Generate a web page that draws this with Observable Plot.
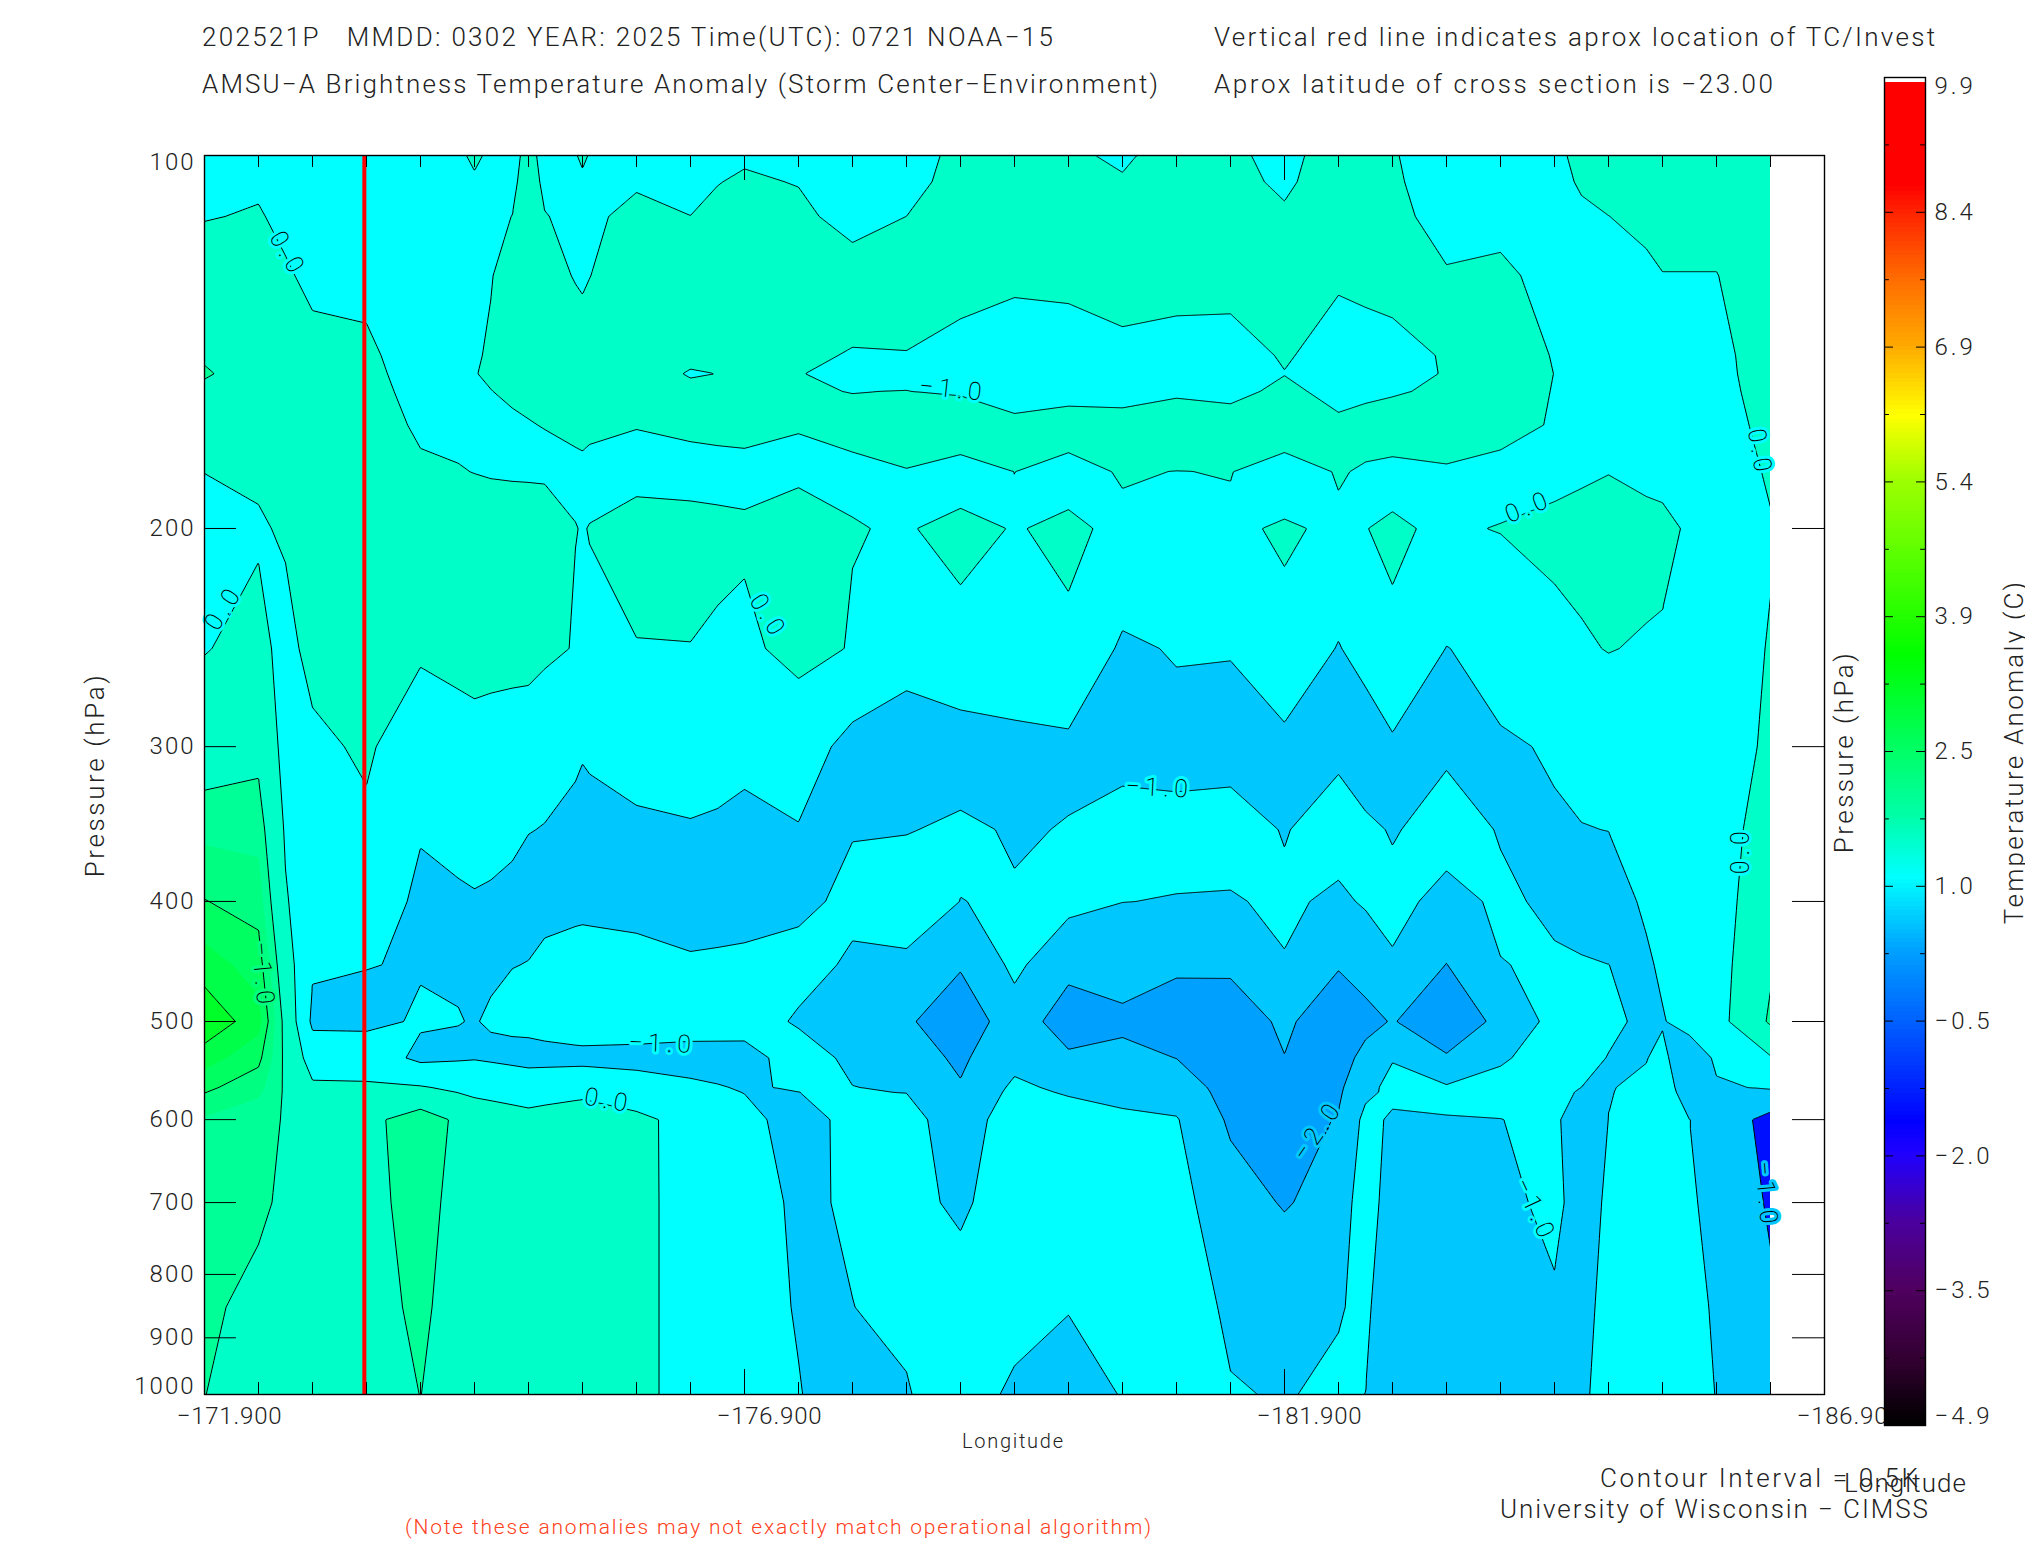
<!DOCTYPE html>
<html><head><meta charset="utf-8">
<script src="https://cdn.jsdelivr.net/npm/d3@7"></script>
<script src="https://cdn.jsdelivr.net/npm/@observablehq/plot@0.6"></script>
<style>
html,body{margin:0;padding:0;background:#fff}
#root{position:relative;width:2025px;height:1550px;overflow:hidden;background:#fff}
#root svg{position:absolute;left:0;top:0;background:transparent}
.t{position:absolute;white-space:pre;color:#222;font-family:Roboto,"Liberation Sans",sans-serif;font-weight:300;line-height:1}
.clab text{letter-spacing:5px}
.xax text{letter-spacing:.8px}
</style></head><body><div id="root"></div>
<script>
const levels=[100,125,150,165,180,200,250,300,400,500,535,600,700,850,1000];
const c00=[-.45,.37,1.06,.5,.02,-.65,-.045,.6,2.02,3.4,2.74,1.44,1.3,1.1,1.01];
const c01=[-.21,.31,.73,.5,.15,-.11,.28,.8,1.78,2.7,2.15,1.15,1.1,.85,.7];
const c02=[-.6,-.15,.27,.35,.35,.35,.3,-.2,-.6,-1.18,-.44,.78,.7,.6,.5];
const c03=[-.5,-.18,.19,.35,.45,.5,.6,.14,-.42,-1.2,-.46,.75,.75,.7,.6];
const c04=[-.6,-.45,-.3,-.11,.11,.37,.15,-.64,-1.19,-.91,-1.2,1.45,1.3,1.15,1.01];
const c05=[.1,-.1,-.01,-.12,-.01,.3,.4,-.38,-1.055,-1.02,-1.05,.58,.5,.45,.4];
const c06=[.1,.19,.15,-.02,-.18,.78,.5,-.83,-1.13,-.8,-1.25,.29,.3,.3,.3];
const c07=[.3,-.05,.21,.1,-.08,-.02,-.4,-.985,-1.12,-.5,-1.25,.6,.55,.5,.45];
const c08=[-.12,.27,.6,.05,-.47,.6,-.06,-.89,-1.18,-.5,-1.3,.2,.25,.25,.25];
const c09=[-.13,.13,-.1,.1,-.18,.17,-.01,-.74,-1.3,-.58,-1.35,-.29,-.35,-.35,-.35];
const c10=[-.05,.4,.7,.2,-.2,.1,-.14,-.92,-1.21,-.6,-1.35,-.75,-.6,-.5,-.5];
const c11=[-.1,.28,.01,.08,-.35,.9,.22,-.5,-1.2,-1.1,-.57,-1.35,-1.15,-1.08,-.95];
const c12=[-.5,.19,-.07,.11,-.08,.02,-.04,-1.32,-.8,-1.41,-1.2,-.75,-.9,-1.01,-1.6];
const c13=[-.4,.39,-.12,.25,-.02,-.04,-.45,-1.73,-.45,-1.85,-1.6,-.55,-.75,-.8,-1.07];
const c14=[.24,.3,-.38,.5,-.29,.16,-.18,-1.49,-1.01,-2.7,-2.15,-1.7,-1.15,-.6,-.4];
const c15=[.5,.15,-.52,.15,.003,-.03,-.3,-1.26,-.93,-1.4,-1.3,-.3,-.5,-.55,-1.22];
const c16=[.1,.2,-.5,.29,-.2,.1,-.09,-1.2,-.75,-2.55,-1.83,-.5,-.6,-.95,-1.5];
const c17=[-.1,.61,-.56,.28,.05,-.12,-1.155,-1.3,-.99,-2.18,-1.77,-.83,-.6,-.6,-.95];
const c18=[.28,.3,-.43,.47,-.01,-.3,-.93,-1.3,-1.03,-2.55,-2.01,-.94,-.7,-.65,-.6];
const c19=[.19,.3,-.47,.33,.02,-.1,-.95,-1.35,-1.07,-2.52,-2.6,-2.15,-1.55,-1.11,-.96];
const c20=[-.3,.49,-.02,.5,-.35,.07,-.15,-1.28,-.85,-1.83,-2.02,-2.5,-2.08,-1.2,-1.04];
const c21=[.5,.1,-.4,.13,.05,-.1,-1.06,-1.2,-1.17,-2.61,-2.4,-1.93,-1.6,-1.05,-.88];
const c22=[.07,.25,-.33,.4,-.19,.08,-.09,-1.155,-.75,-1.94,-1.05,-1.12,-1.6,-1.57,-1.13];
const c23=[-.5,.05,.06,.3,-.06,-.1,-1.02,-1.14,-1.26,-2.7,-1.9,-1.05,-1.5,-1.5,-1.5];
const c24=[-.5,.12,.5,.4,-.35,.035,-.75,-1.07,-.87,-1.75,-1.08,-1.01,-1.3,-1.5,-1.5];
const c25=[-.15,-.2,-.01,-.1,-.2,.18,-.21,-.95,-1.14,-.71,-.7,-.85,-.72,-1.15,-1.3];
const c26=[.5,-.5,-.5,-.4,-.02,.35,.03,-.6,-1.33,-.7,-1.05,-.995,-.83,-.95,-.84];
const c27=[.6,-.02,-.5,-.5,-.3,.25,-.12,-.5,-.7,-1.05,-.85,-.7,-.7,-.7,-.7];
const c28=[.6,-.02,-.4,-.5,-.5,-.5,-.4,-.4,-.4,-.34,-.88,-1.29,-1.16,-1.05,-1.01];
const c29=[.5,.48,.63,.33,.1,-.06,.045,.13,.65,1.12,-.07,-1.9,-1.9,-1.7,-1.5];
const columns=[c00,c01,c02,c03,c04,c05,c06,c07,c08,c09,c10,c11,c12,c13,c14,c15,c16,c17,c18,c19,c20,c21,c22,c23,c24,c25,c26,c27,c28,c29];
// additional readings between the regular grid positions: [column, hPa, value]
const extra=[[1.5,250,-.3],[1.5,300,-.3],[1.5,400,.08],[3,450,-.98],[4,450,-1.05],[5,112,-.3],[6,450,-.99],[5.3,450,-1.06],[5.7,450,-1.01],
[4.7,100,-.1],[5.3,100,-.1],[5.7,100,-.1],[6.3,100,-.1],[6.87,100,-.1],[7.13,100,-.1],[7,105,-.3],
[6.87,200,.012],[7.13,200,.013],[6.87,250,-.06],[7.13,250,-.087],
[9,145,.3],[9,155,.3],[9.5,150,.01],[11,350,-1.05],[11,450,-.7],[14,350,-.85],[15,450,-.8],[17,350,-.67],[18,350,-.75],[19,350,-.63],
[20,450,-1.05],[21,350,-.6],[22,350,-1.07],[22,450,-1.1],[22,565,-.75],[23,350,-.65],[23,570,-.75],[24,350,-1.05],[24,450,-1.02],[24,570,-.75],
[25.5,535,-.55],[25.5,600,-1.5],[25.5,700,-1.5],[26.7,500,-1.3],[26.7,535,-1.02],[27.5,535,-1.5],[27.5,600,-1],
[21.5,300,-1.66],[21.5,350,-.81],[21.5,400,-.9],[21.5,600,-.75],[21.5,700,-.4],[21.5,850,-.85]];
// deep-blue pocket at the right edge (own field): value >= 1 is inside
const deep28=[0,0,0,0,0,0,0,0,0,0,0,.72,.3,0,0];
const deep29=[0,0,0,0,0,0,0,0,0,0,0,1.14,1.105,.86,.6];

const lon0=-171.9, lonStep=.5, lonEnd=-186.9, lonData=-186.4, tcLon=-173.38;
const lonMajor=[-171.9,-176.9,-181.9,-186.9];
const pTicks=[100,200,300,400,500,600,700,800,900,1000];
const pLabelAt=[101.2,200,300,400,500,600,700,800,900,985.6];
const bandLevels=[-2,-1,0,1,1.5,2,2.5,3];
const bandLines=[true,true,true,true,false,true,false,true];
const bandBase="#00a0ff";
const bandColors=["#00c8ff","#00ffff","#00ffc8","#00ff96","#00ff80","#00ff60","#00ff48","#00ff28"];
const labelText=["0.0","0.0","−1.0","0.0","0.0","0.0","0.0","−1.0","−1.0","−1.0","0.0","−2.0","−1.0","−1.0"];
const labelLon=[-172.67,-172.08,-178.83,-177.12,-184.16,-186.3,-186.13,-180.74,-172.44,-176.14,-175.64,-182.21,-184.22,-186.36];
const labelP=[120.1,231.7,154.5,235.6,192.1,173.7,363.7,324,459,521,579,612,710,690];
const labelRot=[60,-57,6,58,-22,80,-90,3,85,2,10,-55,65,85];
const labelBg=["#00ffff","#00ffff","#00ffff","#00ffff","#00ffff","#00ffff","#00ffff","#00ffff","#00ff80","#00ffff","#00ffff","#00c8ff","#00ffff","#00c8ff"];

const cbLabels=["9.9","8.4","6.9","5.4","3.9","2.5","1.0","−0.5","−2.0","−3.5","−4.9"];
const cbTicks=[9.9,8.42,6.94,5.46,3.98,2.5,1.02,-.46,-1.94,-3.42,-4.9];
const cbLabelY=[9.8,8.42,6.94,5.46,3.98,2.5,1.02,-.46,-1.94,-3.42,-4.8];
const cbMinor=[9.16,7.68,6.2,4.72,3.24,1.76,.28,-1.2,-2.68,-4.16];
const cbStops=[-4.9,-4.24,-3.42,-2.67,-1.94,-1.6,-.5,.28,1.09,1.76,2.2,3.53,5.47,6.16,6.94,7.68,8.42,8.69,9.85];
const cbColors=["#000000","#30002f","#500060","#4a00a0","#2000ff","#0000ff","#0060ff","#00a0ff","#00ffff","#00ffa8","#00ff80","#00ff00","#a0ff00","#ffff00","#ffa800","#ff6a00","#ff2000","#ff0000","#ff0000"];

// Arrange the table on one rectangular lattice (column positions x pressure positions).
function lattice(cols,extras){
  const logL=levels.map(Math.log10), store=[];
  cols.forEach((col,i)=>{
    const ex=extras.filter(e=>e[0]===i);
    const k=col.map((v,j)=>[logL[j],v]).concat(ex.map(e=>[Math.log10(e[1]),e[2]])).sort((a,b)=>a[0]-b[0]);
    store.push({c:i,t:k.map(d=>d[0]),v:k.map(d=>d[1])});
  });
  [...new Set(extras.map(e=>e[0]).filter(c=>c%1!==0))].forEach(c=>{
    const a=cols[Math.floor(c)], b=cols[Math.ceil(c)], f=c-Math.floor(c);
    const own=extras.filter(e=>e[0]===c);
    const k=levels.map((p,j)=>{
      const e=own.find(e=>e[1]===p);
      return [logL[j],e?e[2]:a[j]+(b[j]-a[j])*f];
    }).concat(own.filter(e=>!levels.includes(e[1])).map(e=>[Math.log10(e[1]),e[2]])).sort((x,y)=>x[0]-y[0]);
    store.push({c,t:k.map(d=>d[0]),v:k.map(d=>d[1])});
  });
  store.sort((a,b)=>a.c-b.c);
  const T=[...new Set(logL.concat(extras.map(e=>Math.log10(e[1]))))].sort((a,b)=>a-b);
  const at=(s,t)=>{
    let j=1;const m=s.t.length-1;
    while(j<m&&s.t[j]<t)j++;
    const f=Math.max(0,Math.min(1,(t-s.t[j-1])/(s.t[j]-s.t[j-1])));
    return s.v[j-1]+(s.v[j]-s.v[j-1])*f;
  };
  return {C:store.map(s=>s.c),T,V:store.map(s=>Float64Array.from(T,t=>at(s,t)))};
}
// Signed distance (in screen-like units) to the straight-segment contour of threshold th,
// cell by cell, so that Plot.contour traces straight lines between cell-edge crossings.
function contourField({C,T,V},th){
  const XS=C.map(c=>c*54), YS=T.map(t=>t*1239.7);
  const nx=XS.length-1, ny=YS.length-1;
  const find=(A,n,x)=>{let lo=0,hi=n-1;while(lo<hi){const m=(lo+hi+1)>>1;if(A[m]<=x)lo=m;else hi=m-1;}return lo;};
  return (lon,p)=>{
    const X=(lon0-lon)/lonStep*54, Y=Math.log10(p)*1239.7;
    const i=find(XS,nx,X), j=find(YS,ny,Y);
    const x0=XS[i],x1=XS[i+1],y0=YS[j],y1=YS[j+1];
    const a=V[i][j]-th+1e-7,b=V[i+1][j]-th+1e-7,c=V[i+1][j+1]-th+1e-7,d=V[i][j+1]-th+1e-7;
    const pa=a>0,pb=b>0,pc=c>0,pd=d>0;
    const n=pa+pb+pc+pd;
    if(n===0)return -40; if(n===4)return 40;
    const top=()=>[x0+(x1-x0)*a/(a-b),y0], right=()=>[x1,y0+(y1-y0)*b/(b-c)],
          bottom=()=>[x0+(x1-x0)*d/(d-c),y1], left=()=>[x0,y0+(y1-y0)*a/(a-d)];
    const side=(P,Q,Rx,Ry)=>{
      const ux=Q[0]-P[0],uy=Q[1]-P[1],L=Math.hypot(ux,uy)||1e-9;
      const s=ux*(Y-P[1])-uy*(X-P[0]), r=ux*(Ry-P[1])-uy*(Rx-P[0]);
      return (r>=0?s:-s)/L;
    };
    if(pa===pc&&pb===pd&&pa!==pb){ // saddle
      const m=(a+b+c+d)/4;
      if(pa){
        if(m>0) return Math.min(side(top(),right(),x0,y0),side(bottom(),left(),x1,y1));
        return Math.max(side(top(),left(),x0,y0),side(bottom(),right(),x1,y1));
      }
      if(m>0) return Math.min(side(top(),left(),x1,y0),side(bottom(),right(),x0,y1));
      return Math.max(side(top(),right(),x1,y0),side(bottom(),left(),x0,y1));
    }
    const pts=[];
    if(pa!==pb)pts.push(top()); if(pb!==pc)pts.push(right()); if(pd!==pc)pts.push(bottom()); if(pa!==pd)pts.push(left());
    let Rx,Ry;
    if(n===1){Rx=pa||pd?x0:x1;Ry=pa||pb?y0:y1;}
    else if(n===3){Rx=!pa||!pd?x1:x0;Ry=!pa||!pb?y1:y0;}
    else if(pa&&pb){Rx=x0;Ry=y0;} else if(pc&&pd){Rx=x0;Ry=y1;} else if(pa&&pd){Rx=x0;Ry=y0;} else {Rx=x1;Ry=y0;}
    return Math.max(-40,Math.min(40,side(pts[0],pts[1],Rx,Ry)));
  };
}
const latV=lattice(columns,extra);
const latD=lattice(columns.map((_,i)=>i===28?deep28:i===29?deep29:levels.map(()=>0)),[]);

const lonMinor=d3.range(0,30).map(i=>lon0-lonStep*i).filter(x=>!lonMajor.some(m=>Math.abs(m-x)<1e-6));
const box={x1:lon0,x2:-186.45,y1:100,y2:1000,pixelSize:1,thresholds:[0],strokeWidth:1};
const FONT='Roboto,"Liberation Sans",sans-serif';

const main=Plot.plot({
  width:2025,height:1550,marginLeft:204,marginRight:201,marginTop:155,marginBottom:156,
  style:{fontFamily:FONT,fontWeight:300,fontSize:"24px",letterSpacing:"2px",color:"#222",background:"transparent"},
  x:{domain:[lon0,lonEnd]},
  y:{type:"log",domain:[100,1000],reverse:true,axis:null},
  marks:[
    Plot.rect([0],{x1:lon0,x2:lonData,y1:100,y2:1000,fill:bandBase}),
    ...bandLevels.map((th,i)=>Plot.contour({value:contourField(latV,th),fill:bandColors[i],stroke:bandLines[i]?"#000":"none",...box})),
    Plot.contour({value:contourField(latD,1),fill:"#0010ff",stroke:"#000",...box}),
    Plot.rect([0],{x1:lonData,x2:lonEnd,y1:100,y2:1000,fill:"#fff"}),
    Plot.text(d3.range(labelText.length),{x:i=>labelLon[i],y:i=>labelP[i],text:i=>labelText[i],rotate:i=>labelRot[i],
      stroke:i=>labelBg[i],strokeWidth:6,fill:"#000",fontSize:25,fontWeight:200,className:"clab",paintOrder:"stroke"}),
    Plot.ruleX([tcLon],{stroke:"#ff0000",strokeWidth:4}),
    Plot.ruleX(lonMinor,{y1:1000,y2:978,stroke:"#000"}),
    Plot.ruleX(lonMinor,{y1:100,y2:102.25,stroke:"#000"}),
    Plot.ruleX(lonMajor,{y1:1000,y2:954.7,stroke:"#000"}),
    Plot.ruleX(lonMajor,{y1:100,y2:104.75,stroke:"#000"}),
    Plot.ruleY(pTicks,{x1:lon0,x2:-172.196,stroke:"#000"}),
    Plot.ruleY(pTicks,{x1:lonEnd,x2:-186.604,stroke:"#000"}),
    Plot.frame({stroke:"#000",strokeWidth:1.4}),
    Plot.axisX({anchor:"bottom",ticks:lonMajor,tickSize:0,tickPadding:12,label:null,tickFormat:d3.format(".3f"),dx:25,className:"xax"}),
    Plot.text(d3.range(pTicks.length),{x:lon0,y:i=>pLabelAt[i],text:i=>String(pTicks[i]),textAnchor:"end",dx:-9,fill:"#222"})
  ]
});

const cbStrip=d3.range(-4.9,9.85,.05);
const bar=Plot.plot({
  width:2025,height:1550,marginLeft:1884,marginRight:100,marginTop:77,marginBottom:125,
  style:{fontFamily:FONT,fontWeight:300,fontSize:"24px",letterSpacing:"3px",color:"#222",background:"transparent"},
  x:{domain:[0,1],axis:null},
  y:{domain:[-4.9,9.9],axis:null},
  color:{type:"linear",domain:cbStops,range:cbColors,interpolate:"rgb"},
  marks:[
    Plot.rect([[-4.9,9.9]],{x1:0,x2:1,y1:d=>d[0],y2:d=>d[1],fill:"#fff"}),
    Plot.rect(cbStrip,{x1:0,x2:1,y1:d=>d,y2:d=>Math.min(d+.055,9.85),fill:d=>d,shapeRendering:"crispEdges"}),
    Plot.ruleY(cbTicks,{x1:0,x2:.22,stroke:"#000"}),
    Plot.ruleY(cbTicks,{x1:.78,x2:1,stroke:"#000"}),
    Plot.ruleY(cbMinor,{x1:0,x2:.12,stroke:"#000"}),
    Plot.ruleY(cbMinor,{x1:.88,x2:1,stroke:"#000"}),
    Plot.frame({stroke:"#000",strokeWidth:1.4}),
    Plot.text(d3.range(cbLabels.length),{x:1,y:i=>cbLabelY[i],text:i=>cbLabels[i],dx:9,textAnchor:"start",fill:"#222"})
  ]
});
const root=document.getElementById("root");
root.append(main,bar);

function put(txt,left,right,yc,fs,color){
  const s=document.createElement("span");s.className="t";s.textContent=txt;
  s.style.fontSize=fs+"px";s.style.left=left+"px";s.style.top=(yc-fs/2)+"px";if(color)s.style.color=color;
  root.append(s);
  const w=s.getBoundingClientRect().width;
  s.style.letterSpacing=((right-left-w)/(txt.length-1))+"px";
}
function putV(txt,xc,y1,y2,fs){
  const s=document.createElement("span");s.className="t";s.textContent=txt;
  s.style.fontSize=fs+"px";root.append(s);
  const w=s.getBoundingClientRect().width;
  s.style.letterSpacing=((y2-y1-w)/(txt.length-1))+"px";
  s.style.left=xc+"px";s.style.top=((y1+y2)/2)+"px";
  s.style.transform="translate(-50%,-50%) rotate(-90deg)";
}
put("202521P   MMDD: 0302 YEAR: 2025 Time(UTC): 0721 NOAA−15",202,1053,37,26);
put("AMSU−A Brightness Temperature Anomaly (Storm Center−Environment)",202,1158,84,26);
put("Vertical red line indicates aprox location of TC/Invest",1214,1935,37,26);
put("Aprox latitude of cross section is −23.00",1214,1773,84,26);
putV("Pressure (hPa)",95,674,876,26);
putV("Pressure (hPa)",1844,652,852,26);
putV("Temperature Anomaly (C)",2014,581,923,26);
put("Longitude",962,1063,1441,20);
put("Contour Interval = 0.5K",1600,1918,1478,26);
put("Longitude",1844,1966,1483,26);
put("University of Wisconsin − CIMSS",1500,1928,1509,26);
put("(Note these anomalies may not exactly match operational algorithm)",405,1151,1527,21,"#ff4020");
</script></body></html>
